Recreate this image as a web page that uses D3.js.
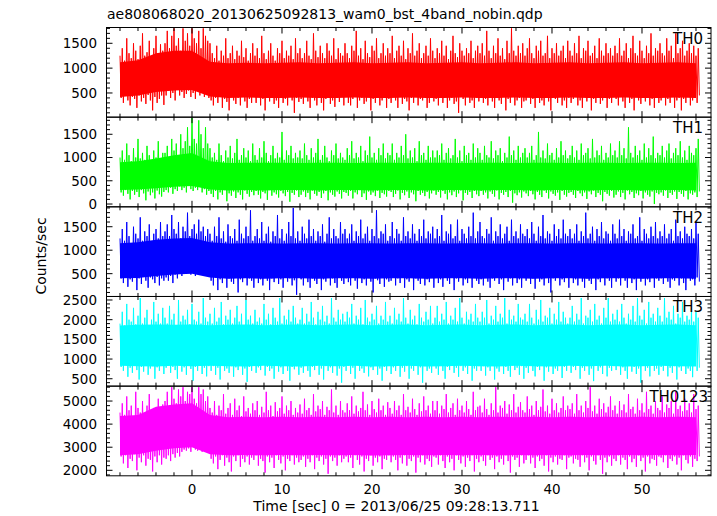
<!DOCTYPE html>
<html><head><meta charset="utf-8">
<script src="https://cdn.jsdelivr.net/npm/d3@7"></script>
<style>
html,body{margin:0;padding:0;background:#fff;}
svg{display:block;}
text{font-family:"DejaVu Sans",sans-serif;fill:#000;}
</style></head>
<body>
<svg id="chart" width="717" height="516"></svg>
<script>
// ---------------- data ----------------
const title = "ae808068020_20130625092813_wam0_bst_4band_nobin.qdp";
const xLabel = "Time [sec] 0 = 2013/06/25 09:28:13.711";
const yLabel = "Counts/sec";
const panelNames = ["TH0", "TH1", "TH2", "TH3", "TH0123"];
const panelColors = ["#ff0000", "#00ff00", "#0000ff", "#00ffff", "#ff00ff"];
const xTickLabels = [0, 10, 20, 30, 40, 50];
const yTickLabels = [
  [500, 1000, 1500],
  [0, 500, 1000, 1500],
  [500, 1000, 1500],
  [500, 1000, 1500, 2000, 2500],
  [2000, 3000, 4000, 5000]
];
const yDomains = [[13, 1818], [-60, 1868], [14, 1924], [312, 2589], [1762, 5645]];

// local maxima every 0.25 s from t=-8, local minima 0.125 s after each maximum
const th0Peaks = [
1250,1400,1150,1600,1300,1200,1500,1350,1180,1450,1700,1250,1320,1550,1200,1400,1650,1280,1480,1350,
1500,1750,1400,1650,1800,1450,1600,1350,1800,1550,1700,1450,1800,1600,1500,1750,1400,1800,1650,1550,
1500,1300,1200,1450,1150,1350,1250,1600,1200,1300,1450,1180,1350,1250,1550,1220,1400,1150,1300,1500,
1250,1400,1200,1650,1300,1180,1350,1500,1250,1150,1400,1300,1550,1200,1350,1250,1450,1180,1600,1300,
1400,1200,1300,1550,1250,1180,1700,1350,1220,1450,1300,1200,1500,1350,1250,1600,1180,1400,1300,1250,
1500,1300,1200,1450,1350,1750,1250,1400,1180,1550,1300,1220,1450,1350,1600,1200,1300,1500,1250,1400,
1300,1650,1200,1350,1450,1250,1550,1180,1400,1300,1700,1250,1350,1500,1200,1300,1450,1250,1600,1350,
1200,1400,1300,1550,1250,1450,1180,1350,1650,1300,1220,1500,1350,1250,1400,1300,1550,1200,1350,1450,
1300,1500,1250,1750,1350,1200,1450,1300,1600,1250,1400,1180,1550,1300,1800,1350,1250,1450,1300,1500,
1250,1400,1600,1300,1200,1450,1350,1550,1250,1300,1650,1200,1400,1300,1500,1250,1350,1450,1200,1550,
1350,1250,1500,1300,1650,1200,1400,1350,1550,1250,1300,1450,1200,1600,1350,1250,1500,1300,1400,1250,
1450,1300,1600,1250,1350,1500,1200,1400,1650,1300,1250,1550,1350,1200,1450,1300,1700,1250,1400,1350,
1500,1300,1250,1600,1350,1450,1200,1700,1300,1400,1550,1250,1350,1500,1300,1450,1250,1400];
const th0Dips = [
400,300,450,350,250,420,380,200,450,330,400,280,460,350,150,420,300,380,450,260,
450,550,400,500,350,600,450,520,400,480,550,420,500,380,560,450,500,420,550,400,
350,250,400,300,450,200,380,320,150,420,350,280,400,250,450,330,200,380,300,420,
300,420,250,380,150,400,330,450,280,350,200,420,300,380,250,450,350,100,400,320,
380,280,450,330,200,400,350,250,420,300,150,380,450,280,350,220,400,320,450,250,
420,300,250,380,450,200,350,400,280,330,450,150,380,300,420,250,350,450,200,380,
300,420,350,200,450,280,380,330,150,400,300,450,250,380,350,420,200,300,450,330,
380,250,420,300,450,200,350,400,280,330,100,420,380,250,450,300,350,200,400,330,
420,300,380,250,450,330,200,400,350,280,450,150,380,300,420,250,350,400,200,330,
350,420,280,380,200,450,300,350,250,400,330,150,420,380,300,450,250,350,200,400,
300,380,450,250,350,200,420,330,400,150,380,300,450,280,350,420,200,380,300,450,
380,250,420,330,200,450,300,380,150,420,350,280,400,330,450,250,380,200,420,300,
350,420,250,380,300,450,200,350,400,150,380,300,420,250,350,400,300,450];
const th1Peaks = [
1000,1150,950,1300,1050,920,1200,1000,1400,980,1100,950,1250,1050,900,1150,1000,1350,950,1100,
1100,1250,1000,1400,1150,1300,1050,1500,1200,1350,1650,1250,1850,1400,1300,1800,1500,1200,1650,1300,
1200,1000,1100,950,1300,1050,920,1150,1000,1250,980,1100,1400,950,1050,1200,1000,1150,920,1300,
1050,950,1200,1000,1350,1100,920,1050,1250,980,1100,1000,1550,950,1150,1050,1250,980,1100,1000,
1150,980,1300,1050,950,1200,1000,1100,1400,950,1050,1250,1000,920,1150,1050,1300,980,1100,1000,
950,1200,1050,1350,980,1100,1000,1250,920,1150,1050,1450,1000,1100,950,1200,1050,1300,980,1100,
1050,1300,950,1100,1000,1250,1050,1500,980,1150,1000,1200,920,1350,1050,1100,950,1250,1000,1150,
1000,1150,1050,1300,950,1100,1200,980,1050,1400,1000,1150,920,1250,1050,1100,950,1300,1000,1200,
1100,950,1250,1050,1000,1350,980,1150,1050,1200,920,1100,1000,1450,1050,1150,950,1250,1000,1100,
1200,1000,1100,1250,950,1050,1550,1000,1150,980,1300,1050,1100,950,1200,1000,1350,1050,1150,980,
1050,1250,1000,1150,950,1300,1050,1100,1200,980,1400,1000,1150,1050,1250,950,1100,1000,1300,1050,
1150,1000,1350,1050,1200,980,1650,1100,1000,1250,1050,1150,950,1300,1000,1200,1050,1450,980,1100,
1050,1250,1000,1150,1300,980,1100,1200,1050,1350,1000,1150,950,1250,1100,1050,1200,1400];
const th1Dips = [
250,180,300,220,100,280,200,260,150,300,230,80,270,190,250,120,290,210,160,260,
300,250,350,220,320,280,380,300,350,250,400,320,280,350,300,380,250,320,200,280,
220,150,280,100,250,200,300,60,230,180,270,130,250,200,100,290,220,160,260,190,
280,200,120,260,230,90,300,180,250,210,140,280,230,170,260,50,240,200,290,150,
200,270,150,240,100,290,220,180,260,130,230,280,80,250,200,160,270,220,120,260,
240,180,280,120,250,210,300,150,230,90,270,200,250,170,290,130,240,210,160,280,
260,150,220,290,100,240,190,270,130,250,210,60,280,200,240,170,260,120,230,290,
200,260,140,280,220,100,250,190,270,150,230,290,80,240,200,260,130,280,210,170,
280,200,250,120,270,220,160,290,100,240,200,260,150,280,30,230,190,250,140,270,
230,170,280,210,100,260,200,150,290,240,120,270,220,180,250,90,280,200,160,240,
260,200,130,280,230,170,250,110,270,210,290,150,240,200,60,260,220,180,280,140,
200,270,150,240,100,290,210,260,130,230,190,280,120,250,200,160,270,0,240,210,
250,180,290,130,240,200,270,110,260,220,160,280,100,230,200,250,150,270];
const th2Peaks = [
1250,1450,1200,1600,1300,1150,1500,1350,1250,1700,1200,1400,1300,1550,1180,1350,1450,1250,1600,1300,
1400,1550,1300,1750,1450,1350,1600,1250,1500,1400,1800,1300,1450,1550,1350,1650,1400,1500,1300,1450,
1350,1200,1500,1300,1700,1250,1400,1180,1550,1300,1250,1450,1200,1650,1350,1250,1500,1300,1850,1200,
1300,1450,1250,1600,1200,1350,1500,1180,1400,1300,1750,1250,1450,1200,1350,1600,1300,1900,1250,1400,
1200,1500,1350,1250,1650,1300,1450,1200,1400,1300,1550,1180,1350,1700,1250,1450,1300,1250,1600,1350,
1450,1250,1350,1550,1200,1400,1300,1650,1250,1350,1500,1200,1450,1300,1850,1250,1400,1350,1550,1200,
1300,1600,1250,1450,1350,1200,1700,1300,1400,1250,1550,1350,1200,1450,1300,1650,1250,1400,1350,1500,
1250,1450,1300,1750,1200,1400,1350,1550,1250,1300,1650,1200,1450,1350,1250,1500,1300,1800,1250,1400,
1600,1300,1250,1450,1350,1700,1200,1400,1300,1550,1250,1350,1500,1200,1650,1300,1400,1250,1550,1350,
1300,1450,1250,1600,1350,1200,1500,1300,1750,1250,1400,1350,1200,1550,1300,1450,1250,1650,1350,1300,
1450,1250,1350,1550,1200,1400,1300,1800,1250,1350,1500,1200,1450,1300,1600,1250,1400,1350,1200,1550,
1350,1250,1650,1300,1450,1200,1400,1350,1550,1250,1300,1700,1200,1450,1350,1250,1500,1300,1600,1250,
1400,1300,1550,1250,1350,1450,1200,1650,1300,1400,1250,1500,1350,1300,1450,1250,1600,1350];
const th2Dips = [
400,300,450,220,380,330,420,150,400,280,450,350,200,420,380,300,430,250,400,350,
420,350,450,300,480,400,520,450,550,500,580,480,520,450,600,500,550,480,520,450,
350,250,420,150,380,300,440,200,400,330,280,450,100,380,320,420,250,400,350,200,
430,300,380,250,450,350,150,400,320,420,280,380,200,450,330,400,250,360,50,420,
380,250,440,320,200,400,350,280,450,150,380,330,420,250,400,300,200,430,350,280,
400,320,250,450,350,180,420,300,380,250,440,330,100,400,360,280,450,220,380,330,
350,420,250,400,300,450,200,380,330,420,150,400,350,280,440,250,380,320,420,200,
430,300,380,220,450,350,280,420,150,400,330,440,250,380,300,420,200,450,350,280,
380,250,430,330,200,400,350,450,280,380,150,420,330,400,250,450,300,380,200,420,
350,420,280,400,180,440,330,380,250,420,300,100,400,350,430,250,380,320,450,200,
420,300,380,250,450,330,200,400,350,280,440,150,380,320,420,250,400,350,200,430,
330,400,250,450,350,200,420,300,380,150,430,330,400,250,380,320,450,200,400,350,
400,280,430,330,200,380,350,420,250,400,300,150,440,350,380,250,420,330];
const th3Peaks = [
1900,2200,1850,2400,2000,1950,2300,1880,2100,2550,1900,2050,2250,1850,2000,2450,1950,2150,1900,2300,
2050,1900,2350,2000,2150,1850,2500,1950,2100,2000,2250,1880,2400,2000,1950,2200,1900,2550,2050,1950,
2150,1900,2300,1950,2050,2450,1880,2100,2000,2250,1900,2050,2350,1950,2150,1850,2500,2000,2100,1900,
2250,1950,2050,1900,2400,2000,2150,1880,2300,2050,1950,2550,1900,2100,2000,2250,1950,2350,2050,1900,
2000,2300,1900,2150,1950,2450,2050,1880,2200,2000,2350,1950,2100,1900,2550,2050,1950,2250,2000,2150,
1950,2200,2050,2400,1900,2100,2000,2300,1880,2500,2050,1950,2150,2000,2350,1900,2100,2000,2450,1950,
2100,1900,2300,2000,2150,1950,2550,2050,1900,2250,2000,2100,1880,2400,2050,1950,2200,2000,2350,1900,
2050,2350,1950,2150,2000,2450,1900,2100,2000,2300,1950,2550,2050,1900,2200,2000,2150,1950,2400,2050,
1950,2200,2050,2500,1900,2100,2000,2350,1950,2150,2050,2550,1900,2250,2000,2100,1950,2400,2050,2000,
2150,1950,2400,2050,1900,2250,2000,2500,1950,2100,2050,2300,1900,2150,2000,2450,1950,2200,2050,1900,
2050,2350,1950,2150,2000,2550,1900,2100,2050,2250,1950,2400,2000,2100,1900,2300,2050,2550,1950,2150,
2000,2250,1950,2400,2050,1900,2150,2000,2350,1950,2550,2100,2000,2250,1900,2450,2050,2150,1950,2300,
2100,1950,2550,2050,2200,2000,2350,1900,2150,2050,2450,1950,2100,2000,2300,1950,2200,2050];
const th3Dips = [
800,700,850,550,780,650,830,720,480,800,680,850,600,760,820,500,790,700,840,620,
780,850,650,800,720,500,840,680,790,600,830,750,450,800,700,850,620,780,560,820,
700,820,600,780,480,840,700,760,650,820,550,790,720,850,600,760,420,800,700,830,
650,790,720,850,580,800,700,760,500,830,680,790,620,850,700,450,800,740,820,600,
780,650,840,700,550,800,720,830,600,760,480,820,700,790,650,850,580,760,400,800,
700,830,620,780,500,850,700,760,650,820,560,790,720,840,600,760,450,800,700,830,
620,790,700,850,550,780,680,820,500,760,700,840,600,790,400,820,700,760,650,850,
760,600,830,700,500,800,720,850,650,780,550,820,700,790,620,850,450,760,700,820,
700,820,580,790,700,850,480,760,680,830,620,800,700,550,840,720,780,600,820,500,
780,650,850,700,560,800,720,830,450,790,680,840,620,760,700,820,520,800,700,850,
650,800,720,850,500,780,700,820,600,760,440,830,700,790,620,850,560,780,700,820,
720,850,600,790,700,500,840,680,800,620,760,400,830,700,780,560,850,700,760,600,
800,700,840,560,780,650,820,480,790,700,850,620,760,700,540,830,700,780];
const th0123Peaks = [
4500,4900,4400,5200,4600,4800,4350,5400,4700,4500,5000,4400,4800,5300,4550,4700,4450,5100,4600,4850,
5000,5400,4800,5600,5100,4900,5500,5200,5600,5000,5400,5300,5600,5100,4900,5600,5300,5500,5000,5200,
4700,4500,5000,4400,4800,4600,5300,4450,4700,4900,4400,5100,4600,4800,4350,5200,4550,4700,4450,4900,
4600,5000,4400,4750,4500,5400,4600,4800,4350,4950,4550,4700,5200,4450,4800,4600,5000,4400,4700,4500,
4850,4450,5100,4600,4700,4400,5300,4550,4800,4650,5000,4400,4750,4600,5500,4500,4800,4400,5000,4600,
4500,4900,4600,5200,4450,4800,4550,4700,5400,4600,4850,4400,5000,4650,4500,5100,4600,4800,4400,4950,
4700,4450,5000,4600,4800,4400,5300,4600,4750,4500,5100,4650,4400,4900,4550,5200,4600,4800,4450,5000,
4600,5000,4450,4800,4650,5300,4500,4700,4900,4400,5100,4600,4800,4500,5000,4650,4400,5400,4600,4750,
4800,4500,5100,4650,4400,4900,4600,5600,4500,4800,4700,5000,4450,4850,4600,5300,4500,4750,4950,4600,
4500,5200,4650,4800,4400,5000,4600,4750,5500,4550,4800,4450,5100,4600,4900,4500,4700,5200,4600,4800,
4650,4900,4450,5300,4600,4800,4500,5000,4700,5600,4550,4800,4450,5100,4650,4900,4500,4750,5200,4600,
4800,4450,5000,4600,4850,4500,5300,4650,4750,4450,5100,4600,4900,4500,5400,4650,4800,4450,5000,4700,
4600,5200,4500,4850,4700,5000,4450,5400,4650,4800,4550,5100,4600,4900,4500,5300,4650,4800];
const th0123Dips = [
2600,2300,2650,2100,2500,2400,2700,2000,2550,2350,2650,2200,2500,2450,1950,2600,2350,2650,2250,2550,
2500,2650,2400,2700,2550,2750,2600,2800,2900,2850,2950,2800,3000,2900,2850,2950,2800,2900,2850,2750,
2500,2300,2600,2050,2450,2650,2200,2550,2350,1950,2600,2400,2650,2150,2500,2350,2600,2250,2550,2450,
2650,2200,2500,2400,1900,2600,2350,2550,2100,2650,2450,2300,2600,2000,2500,2400,2650,2250,2550,2350,
2450,2600,2150,2500,2350,2650,2050,2550,2400,2600,2250,2500,1850,2600,2400,2550,2200,2650,2350,2500,
2600,2350,2550,2100,2650,2450,2250,2600,1950,2500,2400,2650,2200,2550,2350,2600,2050,2500,2450,2650,
2350,2600,2450,2000,2550,2300,2650,2200,2500,2400,2600,1900,2550,2350,2650,2250,2500,2400,2150,2600,
2550,2250,2650,2400,2100,2600,2350,2500,2000,2650,2450,2300,2600,2150,2550,2400,2650,1950,2500,2350,
2600,2400,2200,2650,2450,2550,2050,2600,2350,2500,2250,2650,2400,1900,2600,2450,2550,2150,2650,2300,
2450,2650,2300,2550,2100,2600,2400,2500,2200,2650,1950,2550,2350,2600,2250,2500,2450,2650,2050,2550,
2600,2300,2500,2450,2150,2650,2350,2550,2000,2600,2400,2250,2650,2450,1850,2550,2350,2600,2200,2500,
2400,2650,2250,2550,2450,2050,2600,2350,2500,2150,2650,2400,2550,1950,2600,2300,2500,2450,2200,2600,
2550,2350,2650,2100,2500,2400,2600,2250,2550,2000,2650,2450,2300,2600,2150,2500,2400,2600];

// always-filled part of each band, every 2 s from t=-8
const th0CoreLo = [420,450,520,550,560,430,400,410,400,400,410,400,400,410,400,400,410,400,400,410,400,400,410,400,400,410,400,400,410,400,400,410,400];
const th0CoreHi = [1120,1160,1300,1350,1350,1130,1100,1110,1100,1110,1120,1100,1110,1120,1100,1110,1120,1100,1110,1120,1100,1110,1120,1100,1110,1120,1100,1110,1120,1100,1110,1120,1100];
const th1CoreLo = [300,310,340,370,390,310,290,300,290,300,300,290,300,300,290,300,300,290,300,300,290,300,300,290,300,300,290,300,300,290,300,300,290];
const th1CoreHi = [900,920,980,1050,1100,920,880,890,890,890,880,890,890,880,890,890,880,890,890,880,890,890,880,890,890,880,890,890,880,890,890,880,890];
const th2CoreLo = [400,410,450,480,500,420,390,400,390,400,400,390,400,400,390,400,400,390,400,400,390,400,400,390,400,400,390,400,400,390,400,400,390];
const th2CoreHi = [1150,1170,1220,1250,1260,1170,1140,1150,1150,1140,1150,1150,1140,1150,1150,1140,1150,1150,1140,1150,1150,1140,1150,1150,1140,1150,1150,1140,1150,1150,1140,1150,1150];
const th3CoreLo = [830,820,810,830,820,830,820,810,830,820,810,830,820,830,810,820,830,810,820,830,820,810,830,820,810,830,820,830,810,820,830,820,810];
const th3CoreHi = [1850,1870,1880,1870,1880,1860,1870,1880,1860,1870,1880,1860,1870,1880,1860,1870,1880,1860,1870,1880,1860,1870,1880,1860,1870,1880,1860,1870,1880,1860,1870,1880,1860];
const th0123CoreLo = [2650,2700,2850,2950,3000,2700,2650,2660,2650,2660,2650,2660,2650,2660,2640,2650,2660,2650,2660,2650,2660,2650,2660,2650,2660,2650,2660,2650,2660,2650,2660,2650,2660];
const th0123CoreHi = [4350,4400,4750,4850,4900,4400,4300,4320,4300,4320,4300,4320,4300,4320,4300,4320,4300,4320,4300,4320,4300,4320,4300,4320,4300,4320,4300,4320,4300,4320,4300,4320,4300];

const allPeaks = [th0Peaks, th1Peaks, th2Peaks, th3Peaks, th0123Peaks];
const allDips = [th0Dips, th1Dips, th2Dips, th3Dips, th0123Dips];
const allCoreLo = [th0CoreLo, th1CoreLo, th2CoreLo, th3CoreLo, th0123CoreLo];
const allCoreHi = [th0CoreHi, th1CoreHi, th2CoreHi, th3CoreHi, th0123CoreHi];
const tStart = -8, tStep = 0.25, coreStep = 2;

// ---------------- layout ----------------
const svg = d3.select("#chart");
const left = 106.5, right = 711, top0 = 27.5, bottom = 475.8;
const nP = 5, pH = (bottom - top0) / nP;
const x = d3.scaleLinear().domain([-9.5, 57.667]).range([left, right]);
const xMinor = d3.range(-8, 57, 2);
const yMinorStep = [100, 100, 100, 100, 200];
const labelRight = [703, 703, 703, 703, 708];

svg.append("text").attr("x", 107).attr("y", 19).attr("font-size", 14).text(title);

for (let p = 0; p < nP; p++) {
  const pt = top0 + p * pH, pb = pt + pH;
  const y = d3.scaleLinear().domain(yDomains[p]).range([pb, pt]);
  const g = svg.append("g");
  const clipId = "clip" + p;
  svg.append("clipPath").attr("id", clipId).append("rect")
    .attr("x", left).attr("y", pt).attr("width", right - left).attr("height", pH);
  const dg = g.append("g").attr("clip-path", `url(#${clipId})`);

  const core = allCoreLo[p].map((lo, i) => ({t: tStart + coreStep * i, lo, hi: allCoreHi[p][i]}));
  dg.append("path").datum(core)
    .attr("fill", panelColors[p])
    .attr("d", d3.area().x(d => x(d.t)).y0(d => y(d.lo)).y1(d => y(d.hi)));

  const pts = [];
  allPeaks[p].forEach((v, i) => {
    pts.push({t: tStart + tStep * i, v});
    pts.push({t: tStart + tStep * i + tStep / 2, v: allDips[p][i]});
  });
  dg.append("path").datum(pts)
    .attr("fill", "none").attr("stroke", panelColors[p]).attr("stroke-width", 1)
    .attr("stroke-linejoin", "miter").attr("stroke-miterlimit", 2)
    .attr("d", d3.line().x(d => x(d.t)).y(d => y(d.v)));

  // ticks
  const tk = g.append("g").attr("stroke", "#000").attr("stroke-width", 1);
  xMinor.forEach(t => {
    const L = (t % 10 === 0) ? 6 : 3.5;
    tk.append("line").attr("x1", x(t)).attr("x2", x(t)).attr("y1", pb).attr("y2", pb - L);
    tk.append("line").attr("x1", x(t)).attr("x2", x(t)).attr("y1", pt).attr("y2", pt + L);
  });
  const st = yMinorStep[p];
  const yMin = d3.range(Math.ceil(yDomains[p][0] / st) * st, yDomains[p][1], st);
  const majors = new Set(yTickLabels[p]);
  yMin.forEach(v => {
    const L = majors.has(v) ? 6 : 3.5;
    tk.append("line").attr("x1", left).attr("x2", left + L).attr("y1", y(v)).attr("y2", y(v));
    tk.append("line").attr("x1", right).attr("x2", right - L).attr("y1", y(v)).attr("y2", y(v));
  });

  // frame
  g.append("rect").attr("x", left).attr("y", pt).attr("width", right - left).attr("height", pH)
    .attr("fill", "none").attr("stroke", "#000").attr("stroke-width", 1);

  // tick labels
  yTickLabels[p].forEach(v => {
    g.append("text").attr("x", 97).attr("y", y(v)).attr("dy", "0.36em")
      .attr("text-anchor", "end").attr("font-size", 13.5).text(v);
  });

  g.append("text").attr("x", labelRight[p]).attr("y", pt + 16)
    .attr("text-anchor", "end").attr("font-size", 15).text(panelNames[p]);

  if (p === nP - 1) {
    xTickLabels.forEach(t => {
      g.append("text").attr("x", x(t)).attr("y", 494).attr("text-anchor", "middle")
        .attr("font-size", 13.5).text(t);
    });
  }
}

svg.append("text").attr("x", 396.5).attr("y", 511).attr("text-anchor", "middle")
  .attr("font-size", 14).text(xLabel);
svg.append("text").attr("transform", "translate(46,256) rotate(-90)")
  .attr("text-anchor", "middle").attr("font-size", 14).text(yLabel);
</script>
</body></html>
